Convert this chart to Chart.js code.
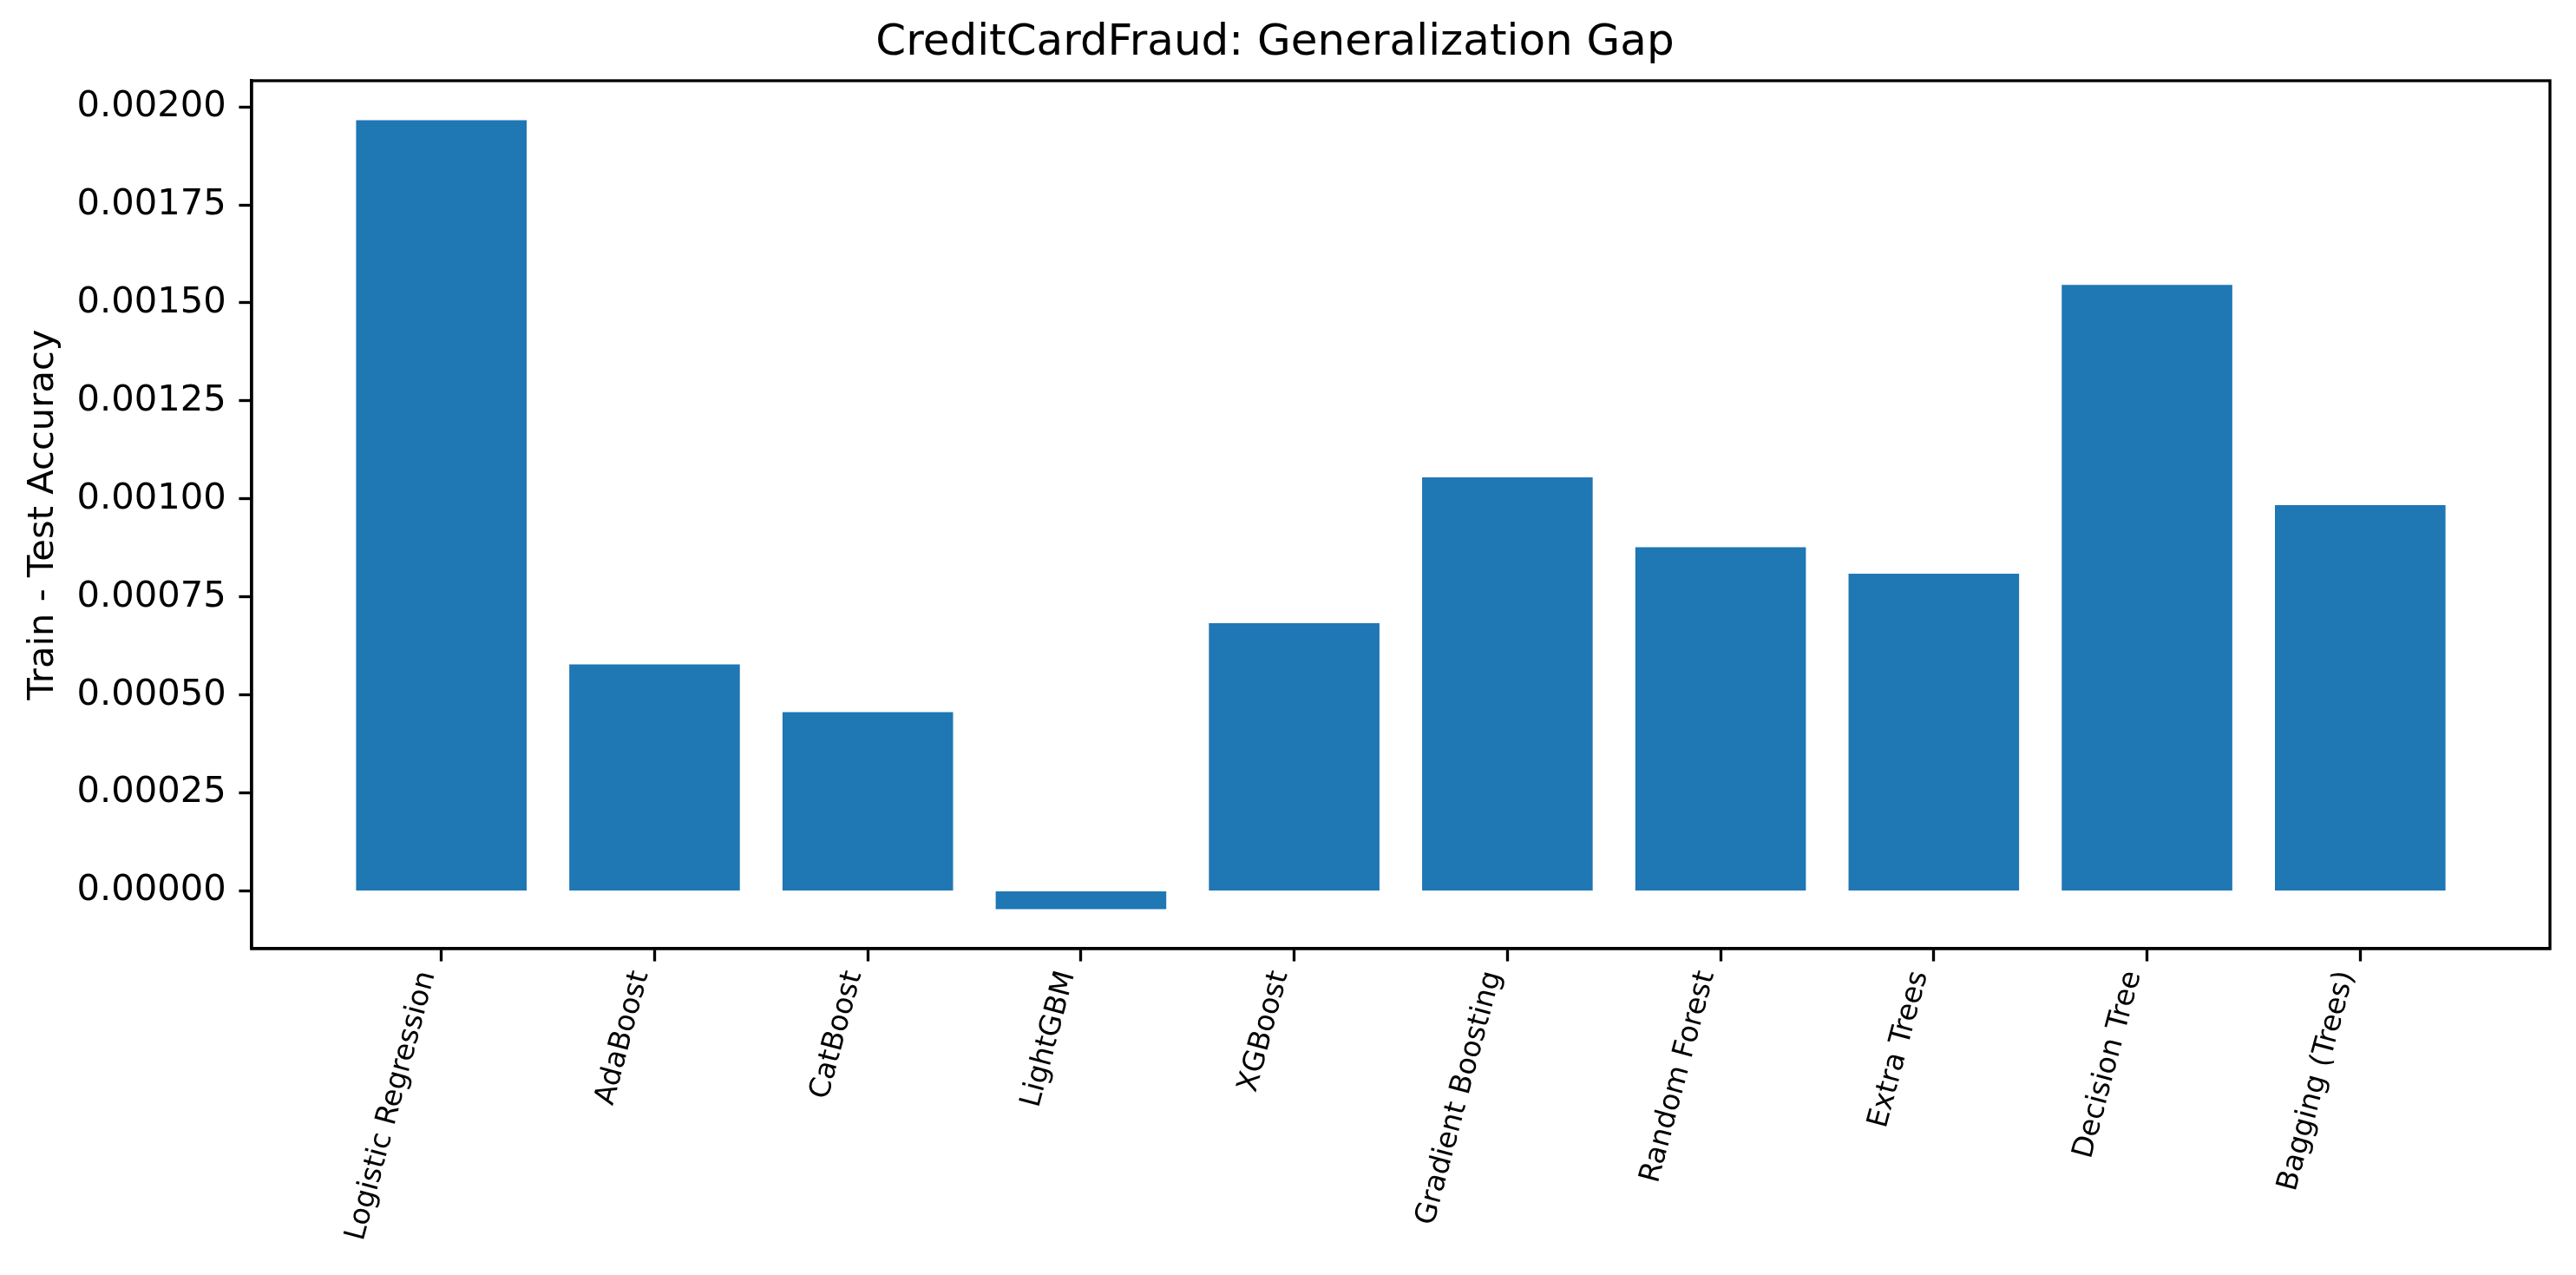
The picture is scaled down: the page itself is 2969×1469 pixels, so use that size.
<!DOCTYPE html>
<html>
<head>
<meta charset="utf-8">
<script src="https://cdn.jsdelivr.net/npm/chart.js@4/dist/chart.umd.min.js"></script>
<style>
  html, body { margin: 0; padding: 0; background: #ffffff; }
  canvas { display: block; }
</style>
</head>
<body>
<canvas id="c" width="2969" height="1469"></canvas>
<script>
// ---- data ----
const categories = ["Logistic Regression", "AdaBoost", "CatBoost", "LightGBM", "XGBoost",
                    "Gradient Boosting", "Random Forest", "Extra Trees", "Decision Tree", "Bagging (Trees)"];
const gapValues = [0.001966, 0.000578, 0.000456, -0.0000465, 0.000683,
                   0.001055, 0.000877, 0.000809, 0.001546, 0.000984];
const yTickValues = [0, 0.00025, 0.0005, 0.00075, 0.001, 0.00125, 0.0015, 0.00175, 0.002];
const titleText = "CreditCardFraud: Generalization Gap";
const yLabelText = "Train - Test Accuracy";

// ---- style ----
const FONT = "DejaVu Sans";
const PT = 300 / 72;            // px per point at 300 dpi
const BAR_WIDTH = 0.8;
const BAR_COLOR = "#1f77b4";

// axis limits like matplotlib autoscale (5% margins)
const xLo = -BAR_WIDTH / 2, xHi = categories.length - 1 + BAR_WIDTH / 2;
const xPad = 0.05 * (xHi - xLo);
const yDataMin = Math.min(0, ...gapValues), yDataMax = Math.max(0, ...gapValues);
const yPad = 0.05 * (yDataMax - yDataMin);

const framePlugin = {
  id: "frame",
  afterDatasetsDraw(chart) {
    const a = chart.chartArea, ctx = chart.ctx;
    ctx.save();
    ctx.strokeStyle = "#000";
    ctx.lineWidth = 0.8 * PT;
    ctx.strokeRect(a.left, a.top, a.right - a.left, a.bottom - a.top);
    ctx.restore();
  }
};

Chart.defaults.color = "#000";
Chart.defaults.font.family = FONT;

new Chart(document.getElementById("c"), {
  type: "bar",
  data: {
    datasets: [{
      data: gapValues.map((v, i) => ({ x: i, y: v })),
      backgroundColor: BAR_COLOR,
      borderWidth: 0,
      categoryPercentage: 1.0,
      barPercentage: BAR_WIDTH
    }]
  },
  options: {
    responsive: false,
    animation: false,
    devicePixelRatio: 1,
    layout: { padding: { left: 0, right: 30, top: 0, bottom: 0 } },
    plugins: {
      legend: { display: false },
      tooltip: { enabled: false },
      title: {
        display: true,
        text: titleText,
        color: "#000",
        font: { family: FONT, size: 12 * PT, weight: "normal", lineHeight: 1.2 },
        padding: { top: 20, bottom: 13 }
      }
    },
    scales: {
      x: {
        type: "linear",
        min: xLo - xPad,
        max: xHi + xPad,
        offset: false,
        afterBuildTicks: (s) => { s.ticks = categories.map((c, i) => ({ value: i })); },
        afterFit: (s) => { s.height = 1469 - 1093; },
        ticks: {
          autoSkip: false,
          maxRotation: 75,
          minRotation: 75,
          padding: 7,
          labelOffset: -16,
          color: "#000",
          font: { family: FONT, size: 8 * PT },
          callback: (v) => categories[Math.round(v)]
        },
        grid: {
          display: true,
          offset: false,
          drawOnChartArea: false,
          drawTicks: true,
          tickLength: 3.5 * PT,
          tickWidth: 0.8 * PT,
          tickColor: "#000",
          color: "#000"
        },
        border: { display: true, color: "#000", width: 0.8 * PT }
      },
      y: {
        type: "linear",
        min: yDataMin - yPad,
        max: yDataMax + yPad,
        afterBuildTicks: (s) => { s.ticks = yTickValues.map(v => ({ value: v })); },
        afterFit: (s) => { s.width = 290; },
        ticks: {
          padding: 3.5 * PT,
          color: "#000",
          font: { family: FONT, size: 10 * PT },
          callback: (v) => Number(v).toFixed(5)
        },
        grid: {
          display: true,
          offset: false,
          drawOnChartArea: false,
          drawTicks: true,
          tickLength: 3.5 * PT,
          tickWidth: 0.8 * PT,
          tickColor: "#000",
          color: "#000"
        },
        border: { display: true, color: "#000", width: 0.8 * PT },
        title: {
          display: true,
          text: yLabelText,
          color: "#000",
          font: { family: FONT, size: 10 * PT, lineHeight: 1.2 },
          padding: { top: 25, bottom: 0 }
        }
      }
    }
  },
  plugins: [framePlugin]
});
</script>
</body>
</html>
